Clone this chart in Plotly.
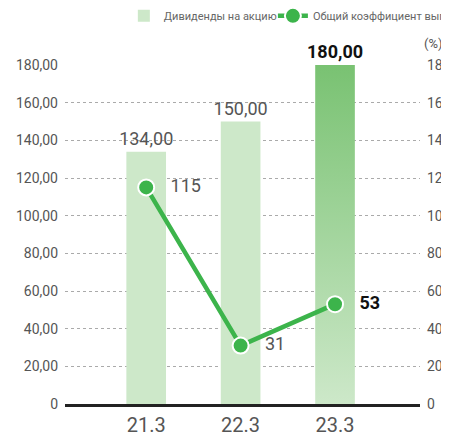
import plotly.graph_objects as go

# данные
categories = ["21.3", "22.3", "23.3"]
dividends = [134.00, 150.00, 180.00]
payout_ratio = [115, 31, 53]
left_ticks = [0, 20, 40, 60, 80, 100, 120, 140, 160, 180]
right_ticks = [0, 20, 40, 60, 80, 100, 120, 140, 160, 180]

LIGHT = "#cde8c9"
DARK = "#79c272"
LINE = "#3cb44b"
GRAY = "#555555"
BAR_W = 0.42
PAD = "\u00a0\u00a0\u00a0"

x_pos = list(range(len(categories)))

fig = go.Figure()

# столбцы (последний рисуется отдельно с градиентом)
bar_colors = [LIGHT] * (len(dividends) - 1) + ["rgba(0,0,0,0)"]
bar_text = ["%{y:.2f}"] * (len(dividends) - 1) + ["<b>%{y:.2f}</b>"]
bar_text_colors = [GRAY] * (len(dividends) - 1) + ["#111111"]
fig.add_trace(go.Bar(
    x=x_pos, y=dividends, width=BAR_W,
    marker=dict(color=bar_colors, line_width=0),
    texttemplate=bar_text, textposition="outside", constraintext="none",
    textfont=dict(size=18, color=bar_text_colors, family="Roboto"),
    cliponaxis=False,
    name="Дивиденды на акцию", legend="legend",
    hoverinfo="skip",
))

# градиентный столбец
i = len(dividends) - 1
v = dividends[i]
fig.add_trace(go.Scatter(
    x=[i - BAR_W / 2, i + BAR_W / 2, i + BAR_W / 2, i - BAR_W / 2, i - BAR_W / 2],
    y=[0, 0, v, v, 0],
    mode="lines", fill="toself", line=dict(width=0),
    fillgradient=dict(type="vertical", colorscale=[[0, LIGHT], [1, DARK]]),
    showlegend=False, hoverinfo="skip",
))

# линия коэффициента выплат
line_text = [PAD + "%{y}"] * (len(payout_ratio) - 1) + [PAD + "<b>%{y}</b>"]
line_text_colors = [GRAY] * (len(payout_ratio) - 1) + ["#111111"]
fig.add_trace(go.Scatter(
    x=x_pos, y=payout_ratio, yaxis="y2",
    mode="lines+markers+text",
    line=dict(color=LINE, width=4.5),
    marker=dict(size=16, color=LINE, line=dict(color="white", width=2)),
    texttemplate=line_text, textposition="middle right",
    textfont=dict(size=18, color=line_text_colors, family="Roboto"),
    cliponaxis=False,
    name="Общий коэффициент выплат дивидендов", legend="legend2",
    hoverinfo="skip",
))

fig.add_annotation(
    text="(%)", xref="paper", yref="paper", x=1.0, y=1.035,
    xanchor="left", yanchor="bottom", showarrow=False, xshift=2,
    font=dict(size=13, color=GRAY, family="Roboto"),
)

legend_style = dict(
    orientation="h", xref="container", yref="container",
    y=0.982, xanchor="left", yanchor="middle",
    font=dict(size=11, color="#666666", family="Roboto"),
    bgcolor="rgba(0,0,0,0)",
)

fig.update_layout(
    width=449, height=436,
    margin=dict(l=57, r=37, t=57, b=40, autoexpand=False),
    paper_bgcolor="white", plot_bgcolor="white",
    separators=", ",
    showlegend=True,
    legend=dict(x=0.258, **legend_style),
    legend2=dict(x=0.59, **legend_style),
    xaxis=dict(
        range=[-0.86, 2.9], tickvals=x_pos, ticktext=categories,
        showgrid=False, zeroline=False,
        showline=True, linecolor="#222222", linewidth=3,
        tickfont=dict(size=20, color=GRAY, family="Roboto"),
        ticks="", ticklabelstandoff=1, automargin=False,
    ),
    yaxis=dict(
        range=[0, 180], tickvals=left_ticks,
        ticktext=["0" if t == 0 else f"{t:.2f}".replace(".", ",") for t in left_ticks],
        showgrid=True, gridcolor="#aaaaaa", griddash="dot", gridwidth=1,
        zeroline=False, automargin=False,
        tickfont=dict(size=14, color=GRAY, family="Roboto"),
        ticks="", ticklabelstandoff=6,
    ),
    yaxis2=dict(
        range=[0, 180], tickvals=right_ticks, overlaying="y", side="right",
        showgrid=False, zeroline=False, automargin=False,
        tickfont=dict(size=14, color=GRAY, family="Roboto"),
        ticks="", ticklabelstandoff=6,
    ),
)

fig.write_html("out.html")
